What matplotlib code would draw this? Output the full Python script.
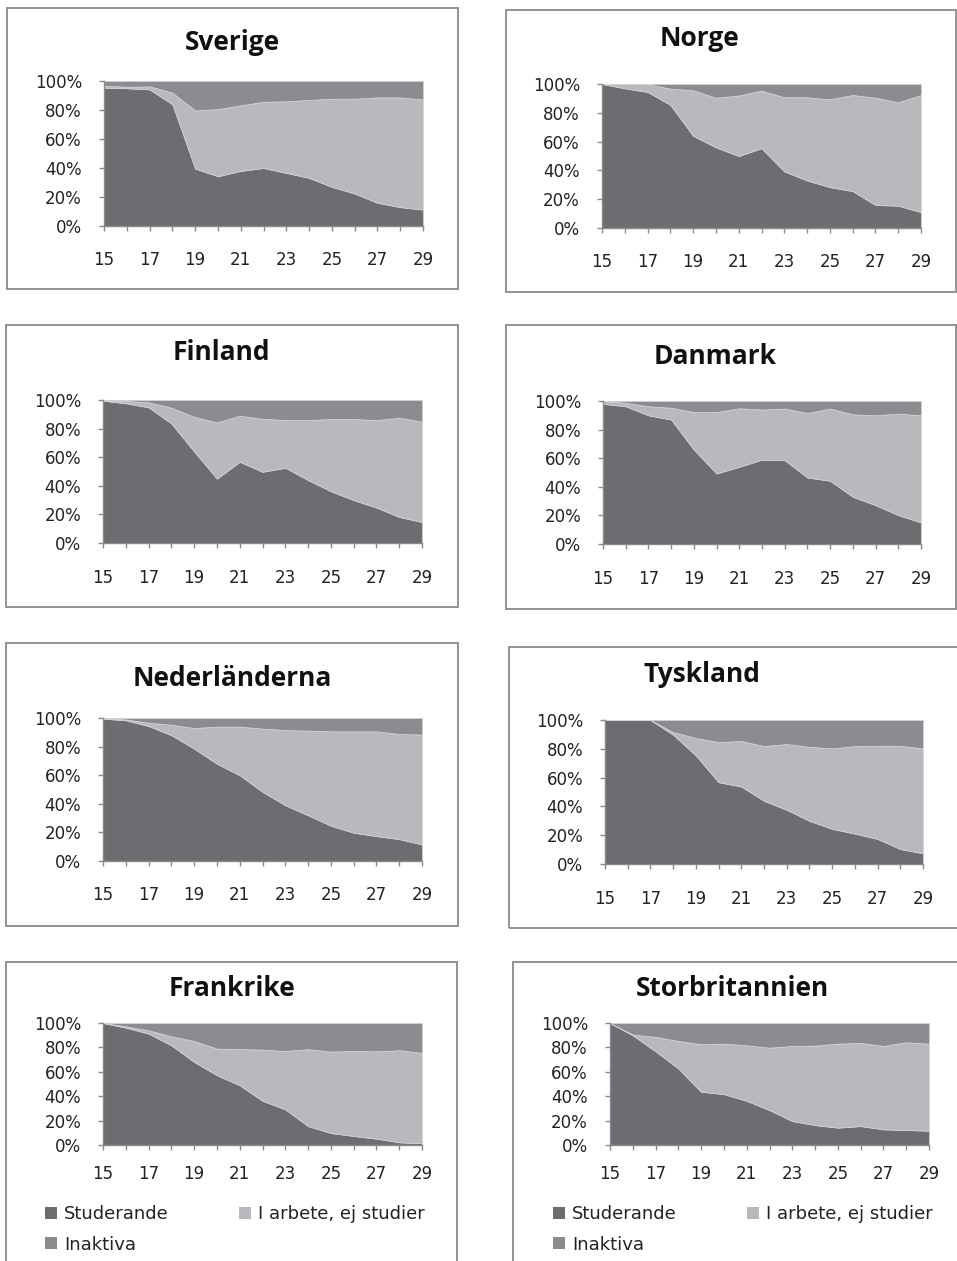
import matplotlib
matplotlib.use("Agg")
import matplotlib.pyplot as plt
from matplotlib.patches import Rectangle, Patch
import numpy as np

W, H = 957, 1261

ages = list(range(15, 30))
series_names = ["Studerande", "I arbete, ej studier", "Inaktiva"]
colors = ["#6c6d71", "#b8b9bc", "#8b8c90"]

# shares (%) per country: studerande, i arbete, inaktiva
sverige_stud = [95.4, 95.0, 94.2, 84.0, 39.6, 34.3, 38.0, 40.0, 36.6, 33.2, 27.0, 22.4, 16.0, 13.0, 11.3]
sverige_arb = [1.4, 1.0, 2.1, 8.0, 40.1, 46.3, 45.2, 45.7, 49.4, 53.7, 60.8, 65.4, 72.7, 75.7, 76.0]
sverige_ina = [3.2, 4.0, 3.7, 8.0, 20.3, 19.4, 16.8, 14.3, 14.0, 13.1, 12.2, 12.2, 11.3, 11.3, 12.7]

norge_stud = [100, 97.0, 94.5, 85.5, 64.0, 56.0, 50.0, 55.4, 39.3, 33.0, 28.4, 25.6, 16.0, 15.5, 11.0]
norge_arb = [0, 3.0, 5.3, 11.3, 31.6, 34.5, 42.0, 40.0, 51.5, 57.8, 61.0, 66.8, 74.5, 71.8, 81.4]
norge_ina = [0, 0, 0.2, 3.2, 4.4, 9.5, 8.0, 4.6, 9.2, 9.2, 10.6, 7.6, 9.5, 12.7, 7.6]

finland_stud = [99.5, 97.7, 94.9, 83.6, 64.0, 45.0, 56.8, 49.8, 52.6, 44.0, 36.2, 30.0, 24.8, 18.2, 14.7]
finland_arb = [0.5, 1.6, 3.5, 11.0, 24.3, 39.3, 32.2, 37.1, 33.4, 42.0, 50.5, 56.7, 61.2, 69.4, 70.1]
finland_ina = [0, 0.7, 1.6, 5.4, 11.7, 15.7, 11.0, 13.1, 14.0, 14.0, 13.3, 13.3, 14.0, 12.4, 15.2]

danmark_stud = [98.0, 96.3, 90.0, 87.0, 66.0, 49.3, 54.0, 59.0, 58.6, 46.5, 44.2, 33.0, 27.2, 20.2, 15.1]
danmark_arb = [2.0, 2.5, 6.3, 8.3, 26.3, 43.0, 40.9, 35.0, 36.1, 45.1, 50.5, 57.7, 62.8, 71.0, 74.9]
danmark_ina = [0, 1.2, 3.7, 4.7, 7.7, 7.7, 5.1, 6.0, 5.3, 8.4, 5.3, 9.3, 10.0, 8.8, 10.0]

nederl_stud = [99.5, 98.4, 94.4, 88.0, 78.6, 68.0, 60.0, 48.4, 39.0, 32.0, 24.7, 19.8, 17.4, 15.3, 11.6]
nederl_arb = [0.5, 0.6, 2.3, 7.3, 14.4, 26.0, 34.0, 44.2, 52.6, 59.2, 66.0, 70.9, 73.3, 73.5, 76.8]
nederl_ina = [0, 1.0, 3.3, 4.7, 7.0, 6.0, 6.0, 7.4, 8.4, 8.8, 9.3, 9.3, 9.3, 11.2, 11.6]

tyskland_stud = [100, 100, 100, 89.8, 75.4, 56.8, 53.8, 43.9, 37.6, 30.0, 24.4, 21.1, 17.4, 10.4, 7.4]
tyskland_arb = [0, 0, 0, 1.8, 12.1, 27.9, 31.6, 38.0, 45.7, 51.4, 55.9, 60.8, 64.7, 71.7, 72.9]
tyskland_ina = [0, 0, 0, 8.4, 12.5, 15.3, 14.6, 18.1, 16.7, 18.6, 19.7, 18.1, 17.9, 17.9, 19.7]

frankrike_stud = [100, 96.2, 91.3, 81.7, 68.1, 57.2, 49.0, 36.2, 29.2, 15.5, 9.8, 7.4, 5.2, 2.2, 1.4]
frankrike_arb = [0, 1.1, 2.7, 7.4, 17.2, 21.8, 29.7, 42.0, 47.9, 63.0, 66.8, 69.7, 71.6, 75.5, 74.1]
frankrike_ina = [0, 2.7, 6.0, 10.9, 14.7, 21.0, 21.3, 21.8, 22.9, 21.5, 23.4, 22.9, 23.2, 22.3, 24.5]

storbr_stud = [100, 89.9, 76.8, 62.7, 43.6, 41.7, 36.2, 28.6, 19.6, 16.3, 14.2, 15.5, 12.8, 12.3, 11.7]
storbr_arb = [0, 0.6, 11.8, 22.6, 39.0, 41.4, 45.5, 51.2, 61.6, 65.2, 68.9, 68.2, 68.4, 71.9, 71.4]
storbr_ina = [0, 9.5, 11.4, 14.7, 17.4, 16.9, 18.3, 20.2, 18.8, 18.5, 16.9, 16.3, 18.8, 15.8, 16.9]

countries = ["Sverige", "Norge", "Finland", "Danmark",
             "Nederländerna", "Tyskland", "Frankrike", "Storbritannien"]
data = {
    "Sverige": (sverige_stud, sverige_arb, sverige_ina),
    "Norge": (norge_stud, norge_arb, norge_ina),
    "Finland": (finland_stud, finland_arb, finland_ina),
    "Danmark": (danmark_stud, danmark_arb, danmark_ina),
    "Nederländerna": (nederl_stud, nederl_arb, nederl_ina),
    "Tyskland": (tyskland_stud, tyskland_arb, tyskland_ina),
    "Frankrike": (frankrike_stud, frankrike_arb, frankrike_ina),
    "Storbritannien": (storbr_stud, storbr_arb, storbr_ina),
}

# layout in pixels: box, plot area, title centre, x-label centre y
layout = {
    "Sverige": ((7, 8, 458, 289), (104, 81, 423, 226), (232, 43), 258),
    "Norge": ((506, 10, 956, 292), (602, 84, 921, 228), (700, 39), 260),
    "Finland": ((6, 325, 458, 607), (103, 400, 422, 543), (221, 353), 576),
    "Danmark": ((506, 325, 956, 609), (603, 401, 921, 544), (715, 357), 577),
    "Nederländerna": ((6, 643, 458, 926), (103, 718, 422, 861), (232, 678), 893),
    "Tyskland": ((509, 647, 962, 928), (605, 720, 923, 864), (702, 674), 897),
    "Frankrike": ((6, 962, 457, 1275), (103, 1023, 422, 1145), (232, 989), 1172),
    "Storbritannien": ((513, 962, 962, 1275), (610, 1023, 929, 1145), (732, 989), 1172),
}

fig = plt.figure(figsize=(W / 100, H / 100), dpi=100)
fig.patch.set_facecolor("white")

TICK_FONT = "DejaVu Sans"
TITLE_FONT = "Open Sans"

def frac_rect(x0, y0, x1, y1):
    return [x0 / W, 1 - y1 / H, (x1 - x0) / W, (y1 - y0) / H]

ticklen_px = 5
for c in countries:
    box, plot, tpos, xlab_y = layout[c]
    bx0, by0, bx1, by1 = box
    fig.patches.append(Rectangle((bx0 / W, 1 - by1 / H), (bx1 - bx0) / W, (by1 - by0) / H,
                                 transform=fig.transFigure, fill=False,
                                 edgecolor="#8a8a8a", linewidth=1.3, zorder=0))
    ax = fig.add_axes(frac_rect(*plot))
    stud, arb, ina = data[c]
    ax.stackplot(ages, stud, arb, ina, colors=colors, labels=series_names,
                 edgecolor="#d4d4d6", linewidth=0.5)
    ax.set_xlim(15, 29)
    ax.set_ylim(0, 100)
    ax.set_yticks([0, 20, 40, 60, 80, 100])
    ax.set_yticklabels([f"{v}%" for v in [0, 20, 40, 60, 80, 100]])
    ax.set_xticks(ages)
    ax.set_xticklabels([str(a) if a % 2 == 1 else "" for a in ages])
    for s in ["top", "right"]:
        ax.spines[s].set_visible(False)
    for s in ["left", "bottom"]:
        ax.spines[s].set_color("#8a8a8a")
        ax.spines[s].set_linewidth(1.0)
    xpad_px = (xlab_y - plot[3]) - ticklen_px - 7
    ax.tick_params(axis="x", length=ticklen_px * 0.72, width=1.0, color="#8a8a8a",
                   pad=xpad_px * 0.72, labelsize=12, labelcolor="#222222")
    ax.tick_params(axis="y", length=ticklen_px * 0.72, width=1.0, color="#8a8a8a",
                   pad=17 * 0.72, labelsize=12, labelcolor="#222222")
    for lab in ax.get_xticklabels() + ax.get_yticklabels():
        lab.set_fontfamily(TICK_FONT)
    fig.text(tpos[0] / W, 1 - tpos[1] / H, c, ha="center", va="center",
             fontsize=19, fontweight="bold", fontfamily=TITLE_FONT, color="#111111")

    if c in ("Frankrike", "Storbritannien"):
        handles = [Patch(facecolor=colors[i], edgecolor="none", label=series_names[i]) for i in range(3)]
        order = [0, 2, 1]
        lx = 45 if c == "Frankrike" else 553
        leg = fig.legend([handles[i] for i in order], [series_names[i] for i in order],
                         loc="upper left", bbox_to_anchor=(lx / W, 1 - 1205 / H),
                         ncol=2, frameon=False, borderpad=0, borderaxespad=0,
                         handlelength=0.65, handleheight=0.65, handletextpad=0.4,
                         labelspacing=0.7, columnspacing=3.9,
                         prop={"family": TICK_FONT, "size": 13})
        for t in leg.get_texts():
            t.set_color("#222222")

fig.savefig("out.png", dpi=100)
